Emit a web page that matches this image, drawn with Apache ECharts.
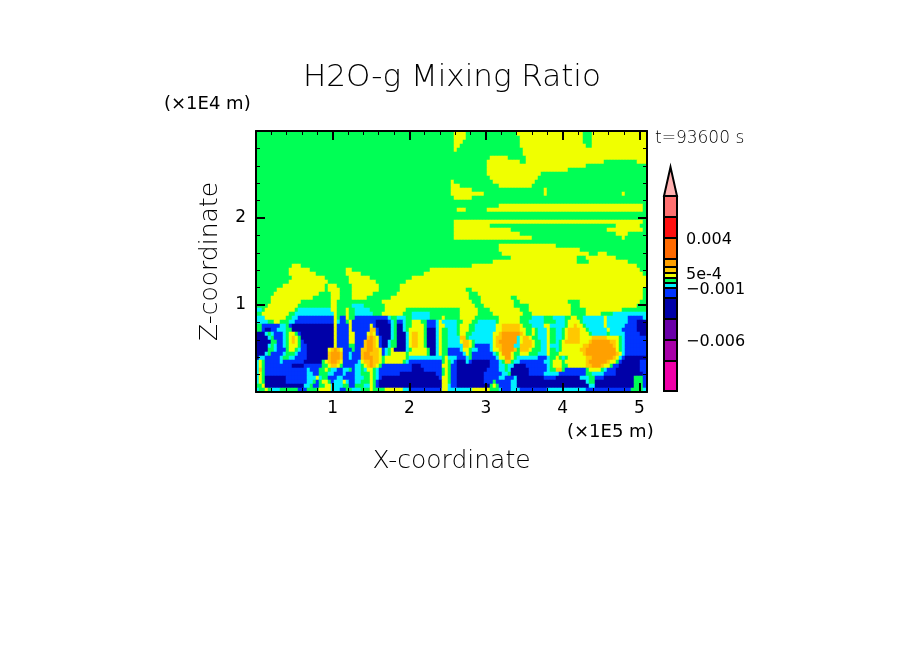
<!DOCTYPE html>
<html>
<head>
<meta charset="utf-8">
<title>H2O-g Mixing Ratio</title>
<style>
  html, body { margin: 0; padding: 0; background: #fff; }
  #mainChart { width: 904px; height: 654px; }
</style>
<script src="https://cdn.jsdelivr.net/npm/echarts@6/dist/echarts.min.js"></script>
</head>
<body>
<div id="mainChart"></div>
<script>
// contour bands, bottom to top
var levels = [-0.01, -0.008, -0.006, -0.004, -0.002, -0.001, -0.0005, 0, 0.0005, 0.001, 0.002, 0.004, 0.006, 0.008];
var bandColors = ['#F000A8', '#A800A8', '#6A00A8', '#0000A8', '#0033FF', '#00F0FF', '#00FF55', '#F0FF00', '#FFC800', '#FFA000', '#FF6A00', '#FF1010', '#FF7070'];
var overColor = '#FFB0B0';
var barTicks = [-0.006, -0.001, 0.0005, 0.004];
var barTickLabels = ['\u22120.006', '\u22120.001', '5e-4', '0.004'];

// one value per letter, the middle of its band
var bandValues = { D: -0.003, B: -0.0015, C: -0.00075, G: -0.00025, Y: 0.00025, O: 0.00075, A: 0.0015, R: 0.003 };

// field, top row first, 130 columns
// each run is a letter and the column where it stops
var fieldUpper = [
  'G66 Y70 G87 Y109 G112 Y130',
  'G66 Y70 G88 Y109 G112 Y130',
  'G66 Y69 G88 Y109 G112 Y130',
  'G66 Y68 G88 Y110 G112 Y130',
  'G66 Y67 G89 Y130',
  'G89 Y130',
  'G78 Y84 G90 Y130',
  'G77 Y88 G90 Y116 G127 Y130',
  'G77 Y110 G130',
  'G77 Y104 G130',
  'G77 Y95 G130',
  'G78 Y94 G130',
  'G65 Y66 G79 Y93 G130',
  'G65 Y68 G81 Y92 G130',
  'G65 Y72 G96 Y97 G130',
  'G65 Y76 G96 Y97 G122 Y123 G130',
  'G66 Y72 G130',
  'G130',
  'G81 Y129 G130',
  'G67 Y70 G77 Y129 G130',
  'G130',
  'G130',
  'G66 Y129 G130',
  'G66 Y78 G120 Y128 G130',
  'G66 Y85 G117 Y129 G130',
  'G66 Y88 G120 Y124 G130',
  'G66 Y92 G122 Y123 G130',
  'G130',
  'G81 Y100 G130',
  'G81 Y108 G130',
  'G82 Y111 G114 Y117 G130',
  'G85 Y107 G110 Y120 G130',
  'G79 Y107 G111 Y124 G130',
  'G12 Y15 G72 Y127 G130',
  'G11 Y18 G30 Y32 G58 Y128 G130',
  'G11 Y20 G30 Y35 G56 Y129 G130',
  'G12 Y23 G31 Y38 G52 Y130',
  'G11 Y24 G31 Y40 G50 Y130',
  'G9 Y23 G24 Y27 G32 Y41 G48 Y130',
  'G7 Y23 G24 Y28 G32 Y41 G48 Y70 G72 Y129 G130',
  'G6 Y21 G25 Y28 G32 Y39 G47 Y71 G74 Y129 G130',
  'G5 Y19 G25 Y28 G32 Y37 G45 Y71 G75 Y85 G87 Y129 G130'
];

var fieldLower = [
  'G5 Y15 G25 Y27 G42 Y72 G75 Y86 G88 Y104 G108 Y128 G130',
  'G4 Y14 G25 Y27 G32 C36 G43 Y73 G76 Y86 G91 Y105 G108 Y127 G130',
  'C2 G3 Y13 G14 C25 Y27 G30 Y31 G33 C38 G43 Y50 G68 Y74 G78 Y88 G91 Y105 G110 Y122 G130',
  'G2 Y11 G13 C26 Y27 G30 Y31 G33 C39 G42 Y49 G52 C58 G68 Y74 G79 Y89 G92 Y105 G110 Y115 G119 C130',
  'C3 Y10 G12 C14 B26 Y27 G28 B30 Y31 G33 B44 C45 G47 C50 G52 C58 G62 Y63 G68 Y73 G81 Y88 G92 C96 G99 C103 G105 Y107 G109 C116 Y117 C124 B129 C130',
  'C4 G6 Y8 G11 C13 B26 Y27 C28 B30 G31 Y32 B40 D44 B45 C46 G47 B49 C50 G52 Y55 G57 B60 C61 Y62 C67 G69 Y72 G74 C80 G81 Y88 G91 C96 G100 C103 G104 Y108 G109 C116 Y117 C124 B127 D130',
  'G2 B8 C10 G11 B12 D26 Y27 B31 Y32 B38 Y39 B40 D45 C46 G47 D49 C50 G52 Y56 G57 B60 C61 Y63 C67 G68 Y71 G73 C80 Y82 O88 Y89 G92 C96 Y98 C103 G104 Y106 O107 Y109 G110 C116 Y117 C123 B127 D130',
  'G2 B3 D5 B7 C10 G12 D26 Y27 B31 Y32 B38 O40 B41 D45 C46 G47 D49 C50 G51 Y56 G57 D60 C61 Y62 G64 C67 G68 Y71 G73 C80 Y82 O88 Y90 G92 Y93 G94 C97 Y98 G100 C102 G103 Y104 O108 Y110 G111 C117 Y118 C122 B127 D130',
  'D3 C4 G5 C6 B9 C10 G11 Y13 G14 B15 D26 Y27 B31 Y33 B37 Y38 O39 Y40 B41 D45 C46 G47 D50 C51 Y52 O54 Y56 G57 D60 C61 Y62 G64 C67 G68 Y70 G72 C79 Y81 O82 A88 O89 Y90 G92 Y93 G94 C97 Y98 G100 C102 G103 Y104 O108 Y111 G112 C117 G118 C123 B128 D130',
  'D4 C5 G6 B9 C10 G11 Y12 O13 Y14 G15 D26 Y27 B31 Y33 B37 O38 A39 O40 Y41 B42 D45 C46 G47 D50 C51 Y52 O54 Y56 G57 D60 C61 Y62 G64 C68 O70 G71 C79 Y80 O82 A87 C88 Y89 O91 Y92 G94 C97 Y98 G100 C102 G103 Y104 O108 Y112 O117 Y121 G122 C123 B130',
  'D5 G7 B9 C10 G11 Y12 O13 Y14 G15 B16 D26 Y27 B31 Y33 B36 O37 A39 O40 Y41 B42 D44 C45 G47 D50 C51 Y52 O54 Y56 G57 D60 C61 Y62 G64 C68 Y69 O71 Y72 G73 C79 Y80 O81 A87 C88 Y89 O92 Y93 G95 C97 Y98 G100 C101 G102 Y103 O108 Y111 O112 A118 O120 Y121 G122 C123 B130',
  'D4 C5 G6 C7 B9 C10 G11 Y14 G15 B17 D26 Y27 B31 G33 B36 O37 A39 O40 Y41 B42 D44 C45 G47 D50 C51 Y52 O54 Y56 G57 D60 C61 Y62 G64 C69 O71 Y72 G73 B78 C79 Y80 O82 A86 C88 O92 Y93 G95 C97 Y98 C101 G102 Y109 O111 A119 O120 Y121 G122 C123 B130',
  'D4 G6 C7 B10 G11 Y13 G14 C15 B17 D24 Y25 O26 A27 O28 Y29 B32 G33 B35 O37 A39 O41 Y42 B43 C44 G45 Y46 D50 C51 G52 Y57 G58 D60 C61 Y62 G64 B68 C69 Y71 G72 C74 B78 C79 Y81 O82 A86 O87 G88 O91 Y92 G95 C97 Y98 G100 C101 G102 Y108 O110 A120 Y121 G122 C123 B130',
  'D3 C4 G5 B9 C10 G13 C14 B17 D24 O25 A28 O29 B31 C32 B35 O36 A38 O41 Y42 B43 C44 G45 Y50 G51 Y57 G58 D60 C61 Y62 G64 B69 C70 Y71 G72 B79 C80 G81 Y82 A85 Y86 G88 Y91 G94 C97 Y98 G101 Y109 O110 A120 O121 Y122 C123 B130',
  'D1 C3 B8 C9 G11 C13 B17 D24 O25 A28 O29 B31 C32 B35 O36 A39 O41 Y42 G43 Y50 G51 C62 G63 Y64 C67 B70 C71 G72 B80 C81 Y83 A85 Y86 G87 C94 B97 C98 G100 Y101 G102 C103 G104 Y110 O112 A119 O120 Y121 C122 B123 D130',
  'C1 Y2 G3 B8 C9 B16 D22 G23 Y24 O25 A27 O28 Y29 B34 C35 Y36 O38 A39 O41 Y42 G43 Y49 G50 C51 B62 G63 Y64 G65 C66 B67 D70 C71 B72 D78 B81 C82 G83 O85 G86 C88 B96 C98 G99 Y102 G103 Y110 O111 A117 O118 Y120 G121 B122 D128 B130',
  'C1 Y2 G3 B12 D16 B22 G24 Y25 O27 Y28 G29 B33 C35 G36 Y37 O38 A39 O40 Y41 G42 B52 D55 B62 Y64 G65 B67 D78 B81 C83 G84 C86 D90 B97 C98 G99 Y102 G104 Y110 O112 A115 O116 Y118 G119 B121 D128 B130',
  'C1 O2 G3 B17 C18 B21 G23 Y24 G25 C27 B29 C31 G32 B33 C35 G36 C37 Y39 G40 C41 B52 D56 B62 G63 Y64 G65 B67 D77 B81 C83 G84 C85 D91 B97 C98 G100 O102 G103 B110 G111 Y115 G116 C117 B120 D128 B130',
  'C1 Y2 G3 B17 C19 B21 G24 C26 B29 C30 B33 C35 G38 Y39 G40 C41 B48 D60 B62 G63 Y64 G65 B67 D76 B82 C84 G85 D91 B96 C98 C101 B110 G112 C116 B120 D129 B130',
  'C1 Y2 G3 D10 B17 C20 Y21 C22 G24 B27 C29 B33 C36 G38 Y39 G40 C41 B42 D61 B62 Y64 G65 B67 D76 B81 C83 B86 C87 D96 B100 D108 C111 G113 B116 D126 G129 B130',
  'C1 Y2 G3 D10 B17 C19 G20 B21 G22 Y24 G25 B26 C29 Y30 C31 B33 C35 G38 Y39 G40 B41 D62 Y64 G65 B67 D76 B79 G80 B85 C87 D110 C111 G113 D126 G129 B130',
  'G2 Y3 D16 C18 G19 B21 G23 Y25 C29 G31 B33 G36 C38 Y39 G40 B41 D62 Y64 C65 B67 D78 G79 Y80 G81 B85 C87 D111 C113 D126 G129 B130',
  'C1 G3 Y4 G5 C8 G14 B17 G21 Y25 C28 B30 G32 C35 G38 Y39 G43 Y49 C51 B62 Y64 C72 Y78 G81 C82 B85 C88 B97 C110 B125 G129 C130'
];

var fieldRows = fieldUpper.concat(fieldLower);
var colCount = 130;
var rowCount = fieldRows.length;

function buildField() {
  var cells = [];
  fieldRows.forEach(function (row, r) {
    var col = 0;
    row.split(' ').forEach(function (run) {
      var stop = parseInt(run.slice(1));
      for (; col < stop; col++) {
        cells.push([col, rowCount - 1 - r, bandValues[run[0]]]);
      }
    });
  });
  return cells;
}

function buildPieces() {
  return bandColors.map(function (color, i) {
    return { gte: levels[i], lt: levels[i + 1], color: color };
  });
}

function indexList(n) {
  var list = [];
  for (var i = 0; i < n; i++) list.push(i);
  return list;
}

var textFont = '"DejaVu Sans"';

// the colour bar is not linear in value, so its bands get their own scale
var barScale = [1, 31, 52, 73, 94, 104, 109, 114, 119, 125, 133, 154, 175, 196];
var barTipTop = 225;

function barPos(level) {
  return barScale[levels.indexOf(level)];
}

function renderBand(params, api) {
  var i = api.value(0);
  var a = api.coord([0, barScale[i]]);
  var b = api.coord([1, barScale[i + 1]]);
  return {
    type: 'rect',
    shape: { x: a[0], y: b[1], width: b[0] - a[0], height: a[1] - b[1] },
    style: { fill: bandColors[i], stroke: '#000', lineWidth: 2 }
  };
}

function renderTip(params, api) {
  var base = barScale[barScale.length - 1];
  return {
    type: 'polygon',
    shape: { points: [api.coord([0, base]), api.coord([1, base]), api.coord([0.5, barTipTop])] },
    style: { fill: overColor, stroke: '#000', lineWidth: 2 }
  };
}

function renderBarLabel(params, api) {
  var i = api.value(0);
  var p = api.coord([1, barPos(barTicks[i])]);
  return {
    type: 'text',
    x: p[0] + 9,
    y: p[1] + 2,
    style: { text: barTickLabels[i], font: '16px ' + textFont, fill: '#000', verticalAlign: 'middle' }
  };
}

function frameAxis(extra) {
  var axis = {
    type: 'value',
    gridIndex: 1,
    min: 0,
    interval: 1,
    z: 10,
    splitLine: { show: false },
    axisLine: { show: true, onZero: false, lineStyle: { color: '#000', width: 2 } },
    axisTick: { show: true, inside: true, length: 9, lineStyle: { color: '#000', width: 2 } },
    minorTick: { show: true, splitNumber: 5, length: 4, lineStyle: { color: '#000', width: 1 } },
    axisLabel: { show: false }
  };
  return Object.assign(axis, extra);
}

function plainLabel(margin) {
  return {
    show: true,
    margin: margin,
    color: '#000',
    fontFamily: textFont,
    fontSize: 17,
    showMinLabel: false,
    showMaxLabel: false,
    formatter: function (v) { return Number.isInteger(v) ? String(v) : ''; }
  };
}

function freeText(text, left, top, font) {
  return { type: 'text', left: left, top: top, style: { text: text, font: font + ' ' + textFont, fill: '#000' } };
}

function chartInit() {
  var myChart = echarts.init(document.getElementById('mainChart'), null, { renderer: 'canvas' });
  var nameStyle = { color: '#000', fontFamily: textFont, fontSize: 25, fontWeight: 200 };
  var option = {
    animation: false,
    backgroundColor: '#fff',
    title: {
      text: 'H2O-g Mixing Ratio',
      left: 303,
      top: 62,
      padding: 0,
      textStyle: { fontFamily: textFont, fontSize: 31, fontWeight: 200, color: '#000' }
    },
    graphic: [
      freeText('(\u00d71E4 m)', 164, 95, '18px'),
      freeText('(\u00d71E5 m)', 567, 423, '18px'),
      freeText('t=93600 s', 655, 130, '200 17px')
    ],
    grid: [
      { left: 256, top: 132, width: 390, height: 260 },
      { left: 256, top: 131, width: 391, height: 261 },
      { left: 664, top: 167, width: 13, height: 225 }
    ],
    xAxis: [
      { type: 'category', gridIndex: 0, data: indexList(colCount), show: false },
      frameAxis({
        position: 'bottom',
        max: 5.1,
        axisLabel: plainLabel(8),
        name: 'X-coordinate',
        nameLocation: 'middle',
        nameGap: 57,
        nameTextStyle: nameStyle
      }),
      frameAxis({ position: 'top', max: 5.1 }),
      { type: 'value', gridIndex: 2, min: 0, max: 1, show: false }
    ],
    yAxis: [
      { type: 'category', gridIndex: 0, data: indexList(rowCount), show: false },
      frameAxis({
        position: 'left',
        max: 3,
        axisLabel: plainLabel(10),
        name: 'Z-coordinate',
        nameLocation: 'middle',
        nameRotate: 90,
        nameGap: 33,
        nameTextStyle: nameStyle
      }),
      frameAxis({ position: 'right', max: 3 }),
      { type: 'value', gridIndex: 2, min: 0, max: barTipTop, show: false }
    ],
    visualMap: {
      type: 'piecewise',
      show: false,
      seriesIndex: 0,
      dimension: 2,
      pieces: buildPieces()
    },
    series: [
      {
        type: 'heatmap',
        xAxisIndex: 0,
        yAxisIndex: 0,
        data: buildField(),
        progressive: 0,
        silent: true,
        z: 1
      },
      {
        type: 'custom',
        xAxisIndex: 3,
        yAxisIndex: 3,
        data: indexList(bandColors.length),
        encode: { x: -1, y: -1 },
        renderItem: renderBand,
        silent: true,
        clip: false
      },
      {
        type: 'custom',
        xAxisIndex: 3,
        yAxisIndex: 3,
        data: [0],
        encode: { x: -1, y: -1 },
        renderItem: renderTip,
        silent: true,
        clip: false
      },
      {
        type: 'custom',
        xAxisIndex: 3,
        yAxisIndex: 3,
        data: indexList(barTicks.length),
        encode: { x: -1, y: -1 },
        renderItem: renderBarLabel,
        silent: true,
        clip: false
      }
    ]
  };
  myChart.setOption(option);
}

chartInit();
</script>
</body>
</html>
